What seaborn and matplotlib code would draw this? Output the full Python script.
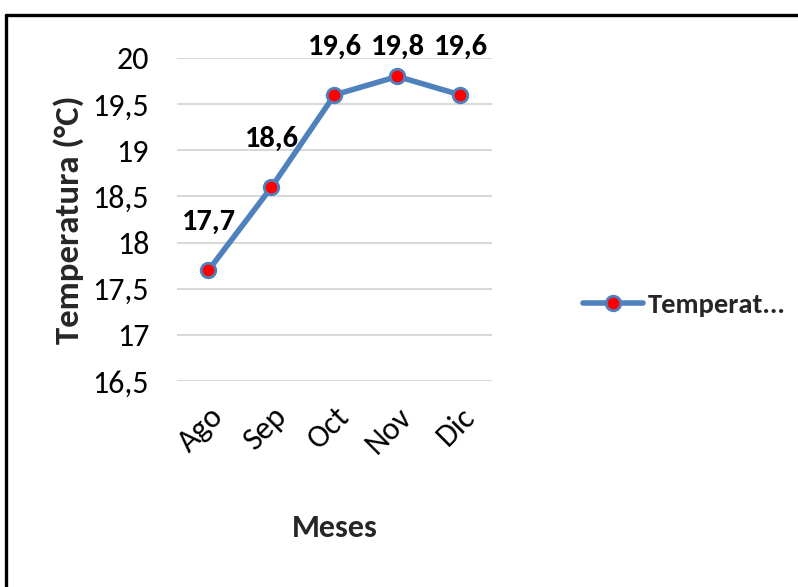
import matplotlib
matplotlib.use("Agg")
import matplotlib.pyplot as plt
from matplotlib.lines import Line2D
import seaborn as sns
import pandas as pd

# Monthly mean temperature
meses = ["Ago", "Sep", "Oct", "Nov", "Dic"]
temperatura = [17.7, 18.6, 19.6, 19.8, 19.6]
y_ticks = [16.5, 17, 17.5, 18, 18.5, 19, 19.5, 20]
serie = "Temperat..."

df = pd.DataFrame({"Meses": meses, "Temperatura": temperatura})

sns.set_theme(style="white")
plt.rcParams["font.family"] = ["Carlito", "Lato", "DejaVu Sans"]

fig = plt.figure(figsize=(7.98, 5.87), dpi=100)
ax = fig.add_axes([0.2218, 0.3509, 0.3947, 0.5503])

line_color = "#4F81BD"
sns.lineplot(data=df, x="Meses", y="Temperatura", ax=ax, sort=False,
             color=line_color, linewidth=4.0, marker="o", markersize=10.5,
             markerfacecolor="#FF0000", markeredgecolor=line_color,
             markeredgewidth=2.0, zorder=3)

ax.set_xlim(-0.5, len(meses) - 0.5)
ax.set_ylim(16.5, 20)
ax.set_yticks(y_ticks)
ax.set_yticklabels([f"{v:g}".replace(".", ",") for v in y_ticks])
ax.yaxis.grid(True, color="#D9D9D9", linewidth=1.5)
ax.xaxis.grid(False)
for s in ax.spines.values():
    s.set_visible(False)
ax.tick_params(axis="y", length=0, pad=20, labelsize=23, colors="#000000")
ax.tick_params(axis="x", length=0, pad=15, labelsize=23, colors="#000000")
for lbl in ax.get_xticklabels():
    lbl.set_rotation(45)
    lbl.set_ha("right")
    lbl.set_rotation_mode("anchor")

ax.set_xlabel("Meses", fontsize=23, fontweight="bold", labelpad=40)
ax.set_ylabel("Temperatura (°C)", fontsize=25, fontweight="bold", labelpad=6)

# Data labels above each point, kept inside the chart's top margin
label_gap = 0.52
label_ceiling = 20.12
for i, v in enumerate(temperatura):
    ax.text(i, min(v + label_gap, label_ceiling), f"{v:.1f}".replace(".", ","),
            ha="center", va="center", fontsize=22, fontweight="bold",
            color="#000000", clip_on=False)

handle = Line2D([], [], color=line_color, linewidth=4.0, marker="o",
                markersize=10.5, markerfacecolor="#FF0000",
                markeredgecolor=line_color, markeredgewidth=2.0)
fig.legend([handle], [serie], loc="center left",
           bbox_to_anchor=(0.731, 0.48), frameon=False, handlelength=2.1,
           handletextpad=0.15, borderpad=0, borderaxespad=0,
           prop={"size": 20.5, "weight": "bold"})

# Chart frame
fig.add_artist(Line2D([0.007, 1.0], [0.974, 0.974], transform=fig.transFigure,
                      color="black", linewidth=2.4))
fig.add_artist(Line2D([0.007, 0.007], [0.0, 0.974], transform=fig.transFigure,
                      color="black", linewidth=2.4))

fig.savefig("out.png", dpi=100)
